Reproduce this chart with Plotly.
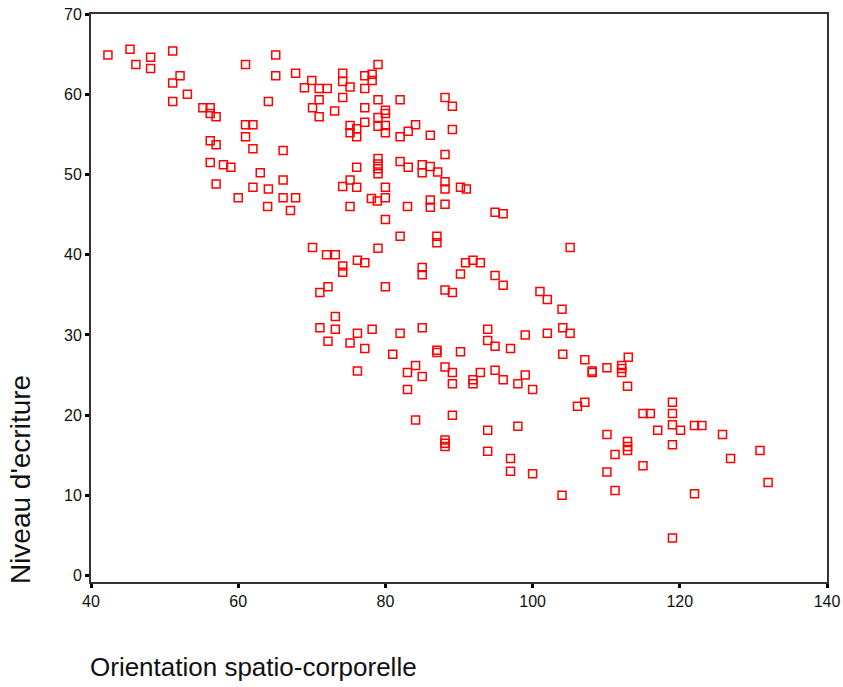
import plotly.graph_objects as go

# Orientation spatio-corporelle (x) and Niveau d'ecriture (y)
orientation = [
    42.3, 45.3, 46.1, 48.1, 48.1, 51.1, 52.1, 51.1, 53.1, 51.1,
    61.0, 65.1, 65.1, 67.8, 69.0, 70.0, 71.0, 72.1, 74.2, 74.2,
    75.2, 74.2, 71.0, 70.1, 71.0, 73.1, 64.1, 55.2, 56.2, 56.2,
    57.0, 61.0, 62.0, 61.0, 62.0, 66.1, 56.2, 57.0, 56.2, 58.0,
    59.0, 63.0, 57.0, 62.0, 64.1, 66.1, 60.0, 66.1, 67.8, 74.2,
    75.2, 76.1, 76.1, 75.2, 75.2, 76.1, 76.1,
    64.0, 67.1, 80.0, 80.0, 78.1, 78.9, 75.2, 80.0, 83.0, 86.1,
    86.1, 82.0, 87.0, 87.0, 70.1, 72.0, 73.2, 79.0, 74.2, 74.2,
    76.2, 77.2, 85.0, 85.0, 72.2, 71.1, 80.0, 73.2, 71.1, 73.2,
    72.2, 76.2, 75.2, 77.2, 78.2, 82.0, 85.0, 81.0, 87.0, 76.2,
    83.0, 84.1, 85.0,
    79.0, 77.2, 78.2, 78.2, 77.2, 79.0, 82.0, 77.2, 79.0, 80.0,
    80.0, 77.2, 79.0, 80.0, 80.0, 82.0, 83.1, 84.1, 86.1, 88.1,
    89.1, 89.1, 88.1, 79.0, 79.0, 79.0, 79.0, 82.0, 83.1, 85.0,
    85.0, 86.1, 87.1, 88.1, 88.1, 90.2, 91.0,
    88.1, 94.9, 96.0, 105.1, 90.9, 91.9, 92.9, 90.2, 94.9, 96.0,
    88.1, 89.1, 101.0, 102.0, 104.0, 93.9, 93.9, 94.9, 97.0, 99.0,
    102.0, 104.1, 105.1, 104.1, 107.1, 108.1, 108.1, 110.1, 112.1, 112.1,
    112.1, 113.0, 87.0, 90.2, 88.1, 89.1, 92.9, 94.9, 99.0, 91.9,
    96.0,
    83.0, 89.1, 91.9, 98.0, 100.0, 84.1, 89.1, 88.1, 88.1, 88.1,
    93.9, 98.0, 93.9, 97.0, 97.0, 100.0,
    112.9, 104.0, 106.1, 107.1, 110.1, 111.2, 110.1, 111.2, 112.9, 112.9,
    112.9, 115.0, 115.0, 116.0, 117.0, 119.0, 119.0, 119.0, 120.1, 119.0,
    122.0, 123.0, 125.8, 126.9, 130.9, 132.0, 122.0, 119.0,
]
niveau = [
    64.9, 65.6, 63.7, 64.6, 63.2, 65.4, 62.3, 61.4, 60.0, 59.1,
    63.7, 64.9, 62.3, 62.6, 60.8, 61.7, 60.7, 60.7, 62.6, 61.6,
    60.9, 59.6, 59.3, 58.3, 57.2, 57.9, 59.1, 58.3, 58.3, 57.6,
    57.2, 56.2, 56.2, 54.7, 53.2, 53.0, 54.2, 53.7, 51.5, 51.2,
    50.9, 50.2, 48.8, 48.4, 48.2, 49.3, 47.1, 47.1, 47.1, 48.5,
    49.3, 48.4, 50.9, 56.1, 55.2, 55.7, 54.7,
    46.0, 45.5, 48.4, 47.1, 47.0, 46.7, 46.0, 44.4, 46.0, 46.8,
    45.9, 42.3, 42.3, 41.5, 40.9, 40.0, 40.0, 40.8, 38.6, 37.8,
    39.3, 39.0, 38.4, 37.5, 36.0, 35.3, 36.0, 32.3, 30.9, 30.7,
    29.2, 30.2, 29.0, 28.3, 30.7, 30.2, 30.9, 27.6, 27.8, 25.5,
    25.3, 26.2, 24.8,
    63.7, 62.3, 62.5, 61.7, 60.7, 59.3, 59.3, 58.3, 57.1, 58.0,
    57.6, 56.5, 56.0, 56.1, 55.2, 54.7, 55.4, 56.2, 54.9, 59.6,
    58.5, 55.6, 52.5, 52.0, 51.3, 50.7, 50.1, 51.6, 50.9, 51.2,
    50.2, 51.0, 50.3, 49.1, 48.2, 48.4, 48.2,
    46.3, 45.3, 45.1, 40.9, 39.0, 39.3, 39.0, 37.6, 37.4, 36.2,
    35.6, 35.3, 35.4, 34.4, 33.2, 30.7, 29.3, 28.6, 28.3, 30.0,
    30.2, 30.9, 30.2, 27.6, 26.9, 25.5, 25.3, 25.9, 26.2, 25.8,
    25.3, 27.2, 28.1, 27.9, 26.0, 25.3, 25.3, 25.6, 25.0, 24.4,
    24.4,
    23.2, 23.9, 23.9, 23.9, 23.2, 19.4, 20.0, 16.9, 16.5, 16.1,
    18.1, 18.6, 15.5, 14.6, 13.0, 12.7,
    23.6, 10.0, 21.1, 21.6, 17.6, 15.1, 12.9, 10.6, 16.7, 16.1,
    15.6, 13.7, 20.2, 20.2, 18.1, 21.6, 20.2, 18.8, 18.1, 16.3,
    18.7, 18.7, 17.6, 14.6, 15.6, 11.6, 10.2, 4.7,
]
x_ticks = [40, 60, 80, 100, 120, 140]
y_ticks = [0, 10, 20, 30, 40, 50, 60, 70]

FONT = "Liberation Sans, Arial, sans-serif"

fig = go.Figure(go.Scatter(
    x=orientation, y=niveau, mode="markers",
    marker=dict(symbol="square-open", size=8, color="#ff0000",
                line=dict(width=1.5, color="#ff0000")),
    hoverinfo="x+y",
    cliponaxis=False,
))

axis_common = dict(
    showgrid=False, zeroline=False, showline=True, mirror=True,
    linecolor="#333333", linewidth=2, automargin=False,
    ticks="outside", ticklen=4, tickwidth=3, tickcolor="#000000",
    tickfont=dict(family=FONT, size=16, color="#111111"),
)

fig.update_layout(
    width=843, height=687,
    margin=dict(l=91, r=16, t=14, b=105, autoexpand=False),
    paper_bgcolor="white", plot_bgcolor="white",
    showlegend=False,
    xaxis=dict(range=[40, 140], tickvals=x_ticks, ticktext=[str(v) for v in x_ticks], **axis_common),
    yaxis=dict(range=[-0.8, 70], tickvals=y_ticks, ticktext=[str(v) for v in y_ticks], **axis_common),
    annotations=[
        dict(text="Orientation spatio-corporelle", xref="paper", yref="paper",
             x=-0.004, y=-0.1496, xanchor="left", yanchor="middle", showarrow=False,
             font=dict(family=FONT, size=26, color="#111111")),
        dict(text="Niveau d'ecriture", xref="paper", yref="paper",
             x=-0.095, y=0.1796, xanchor="center", yanchor="middle", showarrow=False,
             textangle=-90,
             font=dict(family=FONT, size=28, color="#111111")),
    ],
)

# remove the default page margin so the figure fills the window exactly
fig.write_html(
    "out.html",
    config={"displayModeBar": False},
    post_script="document.body.style.margin='0';document.body.style.overflow='hidden';",
)
